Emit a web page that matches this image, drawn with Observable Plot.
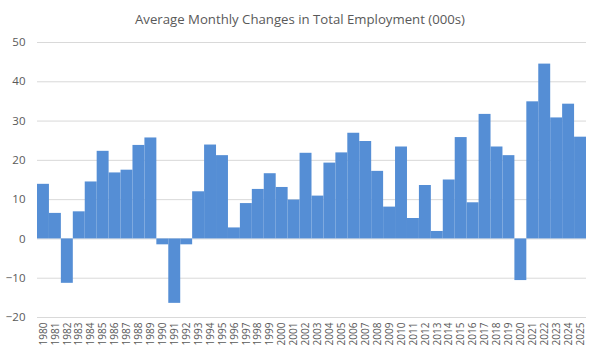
<!DOCTYPE html>
<html>
<head>
<meta charset="utf-8">
<script src="https://cdn.jsdelivr.net/npm/d3@7"></script>
<script src="https://cdn.jsdelivr.net/npm/@observablehq/plot@0.6"></script>
<style>
  html, body { margin: 0; padding: 0; background: #fff; }
  #title { height: 30px; line-height: 30px; padding-top: 4px; box-sizing: border-box; text-align: center;
    font-family: "Open Sans", sans-serif; font-size: 13px; color: #595959; white-space: nowrap; }
</style>
</head>
<body>
<div id="title"><span id="titletext">Average Monthly Changes in Total Employment (000s)</span></div>
<div id="chart"></div>
<script>
const years = ["1980","1981","1982","1983","1984","1985","1986","1987","1988","1989",
  "1990","1991","1992","1993","1994","1995","1996","1997","1998","1999",
  "2000","2001","2002","2003","2004","2005","2006","2007","2008","2009",
  "2010","2011","2012","2013","2014","2015","2016","2017","2018","2019",
  "2020","2021","2022","2023","2024","2025"];
const changes = [13.9, 6.5, -11.3, 6.9, 14.5, 22.3, 16.8, 17.5, 23.8, 25.7,
  -1.5, -16.4, -1.5, 12.0, 23.9, 21.2, 2.8, 9.0, 12.6, 16.6,
  13.1, 9.9, 21.8, 10.9, 19.3, 21.9, 26.9, 24.8, 17.2, 8.1,
  23.4, 5.2, 13.6, 1.9, 15.0, 25.8, 9.2, 31.7, 23.4, 21.2,
  -10.6, 34.9, 44.5, 30.8, 34.3, 25.9];
const yTicks = [-20, -10, 0, 10, 20, 30, 40, 50];

// fit title to the reference's title width (~330px)
const tt = document.getElementById("titletext");
const w13 = tt.getBoundingClientRect().width;
if (w13 > 0) tt.parentNode.style.fontSize = (13 * 330 / w13).toFixed(2) + "px";

const data = years.map((y, i) => ({year: y, value: changes[i]}));

const chart = Plot.plot({
  width: 600,
  height: 331,
  marginTop: 12,
  marginBottom: 44,
  marginLeft: 37,
  marginRight: 14,
  style: {fontFamily: "Open Sans, sans-serif", color: "#595959", background: "#fff"},
  x: {type: "band", domain: years, padding: 0, label: null},
  y: {domain: [-20, 50], ticks: yTicks, label: null},
  marks: [
    Plot.ruleY(yTicks, {stroke: "#d9d9d9", strokeWidth: 1}),
    Plot.barY(data, {x: "year", y: "value", fill: "#558ed5"}),
    Plot.axisY({ticks: yTicks, tickSize: 0, tickPadding: 12, fontSize: 11.5, label: null, fill: "#595959"}),
    Plot.axisX({tickSize: 0, tickPadding: 5, tickRotate: -90, fontSize: 10, label: null, fill: "#595959"})
  ]
});
document.getElementById("chart").appendChild(chart);
</script>
</body>
</html>
